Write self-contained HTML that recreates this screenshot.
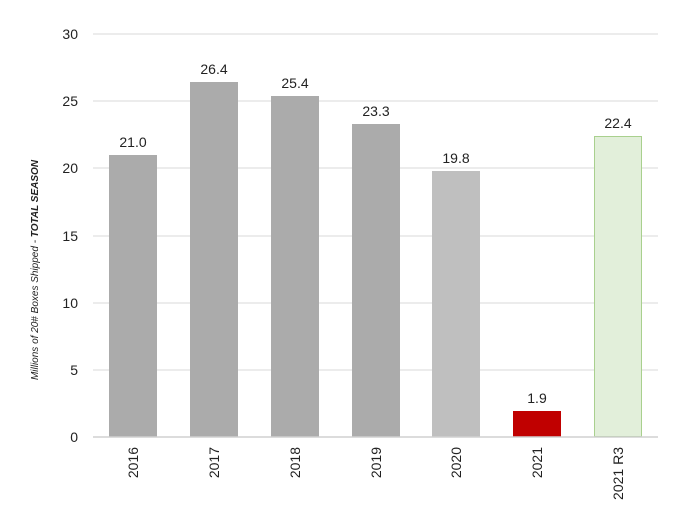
<!DOCTYPE html>
<html><head><meta charset="utf-8"><style>body{margin:0;background:#fff}</style></head><body>
<svg width="700" height="526" xmlns="http://www.w3.org/2000/svg" font-family="Liberation Sans, sans-serif">
<g stroke="#e6e6e6" stroke-width="1.5">
<line x1="93" x2="658" y1="34" y2="34"/><line x1="93" x2="658" y1="101" y2="101"/><line x1="93" x2="658" y1="168" y2="168"/><line x1="93" x2="658" y1="236" y2="236"/><line x1="93" x2="658" y1="303" y2="303"/><line x1="93" x2="658" y1="370" y2="370"/>
</g>
<g font-size="14" fill="#222" text-anchor="end">
<text x="78" y="39">30</text><text x="78" y="106">25</text><text x="78" y="173">20</text><text x="78" y="241">15</text><text x="78" y="308">10</text><text x="78" y="375">5</text><text x="78" y="442">0</text>
</g>
<text transform="translate(38,270) rotate(-90)" text-anchor="middle" font-size="10" font-style="italic" fill="#222">Millions of 20# Boxes Shipped - <tspan font-weight="bold">TOTAL SEASON</tspan></text>
<rect x="109" y="155" width="48" height="282" fill="#ababab"/>
<rect x="190" y="82" width="48" height="355" fill="#ababab"/>
<rect x="271" y="96" width="48" height="341" fill="#ababab"/>
<rect x="352" y="124" width="48" height="313" fill="#ababab"/>
<rect x="432" y="171" width="48" height="266" fill="#bfbfbf"/>
<rect x="513" y="411" width="48" height="26" fill="#c00000"/>
<rect x="594.5" y="136.5" width="47" height="300" fill="#e2efda" stroke="#a9d08e" stroke-width="1"/>
<line x1="93" x2="658" y1="437" y2="437" stroke="#d0d0d0" stroke-width="1.5"/>
<g font-size="14" fill="#222" text-anchor="middle">
<text x="133" y="147">21.0</text><text x="214" y="74">26.4</text><text x="295" y="88">25.4</text><text x="376" y="116">23.3</text><text x="456" y="163">19.8</text><text x="537" y="403">1.9</text><text x="618" y="128">22.4</text>
</g>
<g font-size="14" fill="#222" text-anchor="end">
<text transform="translate(138,447) rotate(-90)">2016</text>
<text transform="translate(219,447) rotate(-90)">2017</text>
<text transform="translate(300,447) rotate(-90)">2018</text>
<text transform="translate(381,447) rotate(-90)">2019</text>
<text transform="translate(461,447) rotate(-90)">2020</text>
<text transform="translate(542,447) rotate(-90)">2021</text>
<text transform="translate(623,447) rotate(-90)">2021 R3</text>
</g>
</svg>
</body></html>
